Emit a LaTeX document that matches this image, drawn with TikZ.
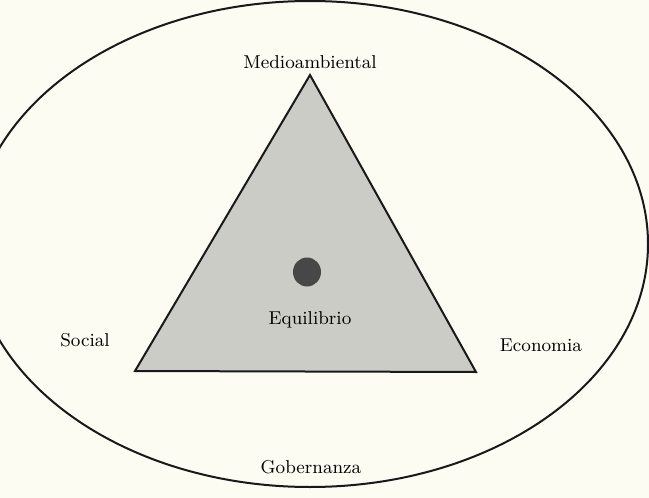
\documentclass[tikz,border=0pt]{standalone}
\usepackage{xcolor}
\usetikzlibrary{shapes.geometric, positioning}

\definecolor{paper}{RGB}{252,252,243}
\definecolor{shade}{RGB}{204,204,198}

\begin{document}
\begin{tikzpicture}[x=0.5pt, y=-0.5pt, every node/.style={font=\fontsize{9.3}{11}\selectfont}]
    % Styles
    \tikzstyle{pole} = [text=black, inner sep=1pt]
    \tikzstyle{border} = [line width=1pt, draw=black!90]

    % Page
    \fill[paper] (0,0) rectangle (649,498);
    \useasboundingbox (0,0) rectangle (649,498);
    \clip (0,0) rectangle (649,498);

    % Outer ellipse (Gobernanza)
    \draw[border] (310,244) ellipse [x radius=338, y radius=243];

    % Triangle corners
    \coordinate (top) at (310,75);
    \coordinate (left) at (135,371);
    \coordinate (right) at (476,372);
    \draw[border, fill=shade] (top) -- (left) -- (right) -- cycle;

    % Labels
    \node[pole, above=2pt of top] (medio) {Medioambiental};
    \node[pole] (social) at (85,340) {Social};
    \node[pole] (econ) at (541,345) {Economia};
    \node[pole] (equil) at (310,320) {Equilibrio};
    \node[pole] (gob) at (311,467) {Gobernanza};

    % Centre point
    \node[ellipse, fill=black!72, minimum width=14pt, minimum height=14.5pt, inner sep=0pt] (dot) at (307,272) {};
\end{tikzpicture}
\end{document}
